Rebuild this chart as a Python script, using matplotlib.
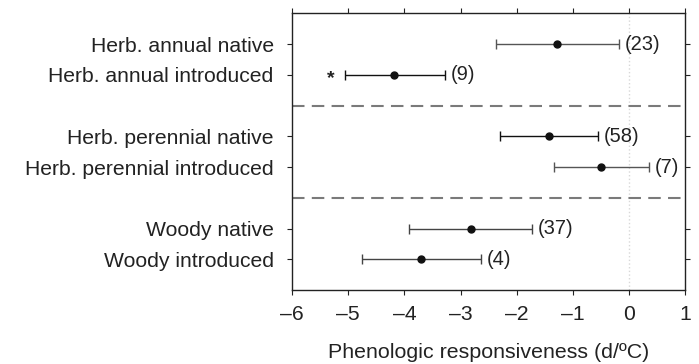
import numpy as np
import matplotlib
matplotlib.use("Agg")
import matplotlib.pyplot as plt

plt.rcParams['font.family'] = ['Liberation Sans', 'DejaVu Sans']

### DATA

groups = [
    'Herb. annual native',
    'Herb. annual introduced',
    'Herb. perennial native',
    'Herb. perennial introduced',
    'Woody native',
    'Woody introduced',
]
means = [-1.28, -4.18, -1.43, -0.50, -2.82, -3.70]
lower = [-2.37, -5.06, -2.30, -1.33, -3.91, -4.75]
upper = [-0.17, -3.28, -0.55, 0.36, -1.72, -2.64]
counts = [23, 9, 58, 7, 37, 4]
significant = [False, True, False, False, False, False]

# row slots, a blank slot between the three groups
rows = [1, 2, 4, 5, 7, 8]
dividers = [3, 6]
bar_colors = ['#555555', '#111111', '#111111', '#555555', '#444444', '#444444']

### PLOT

fig = plt.figure(figsize=(6.99, 3.64), dpi=100)
ax = fig.add_axes([0.418, 0.2033, 0.562, 0.7602])

ax.axvline(0, color='#d8d8d8', lw=1, ls=':', zorder=0)
for d in dividers:
    ax.axhline(d, color='#7a7a7a', lw=1.5, ls=(0, (6, 3.5)))

for i in range(len(groups)):
    m = means[i]
    err = [[m - lower[i]], [upper[i] - m]]
    ax.errorbar(m, rows[i], xerr=err, fmt='o', color='#111111', ms=5,
                ecolor=bar_colors[i], elinewidth=1, capsize=3.5, capthick=1)
    ax.annotate('(%d)' % counts[i], (upper[i], rows[i]), xytext=(4, 0),
                textcoords='offset points', va='center', ha='left', fontsize=14.5,
                color='#222222')
    if significant[i]:
        ax.text(lower[i] - 0.26, rows[i] + 0.12, '*', ha='center', va='center',
                fontsize=14, fontweight='bold', color='#222222')

ax.set_xlim(-6, 1)
ax.set_ylim(9, 0)
ax.set_xticks(range(-6, 2))
ax.set_xticklabels(['\u2013%d' % -v if v < 0 else str(v) for v in range(-6, 2)])
ax.set_yticks(rows)
ax.set_yticklabels(groups)
ax.tick_params(axis='both', direction='out', length=3.8, width=0.8, labelsize=15.2,
               colors='#222222', top=True, right=True)
ax.tick_params(axis='x', pad=7)
ax.tick_params(axis='y', pad=9.5)
for s in ax.spines.values():
    s.set_linewidth(1)
    s.set_color('#222222')

ax.set_xlabel('Phenologic responsiveness (d/ºC)', fontsize=15.4, color='#222222', labelpad=14)

fig.savefig('out.png', dpi=100)
